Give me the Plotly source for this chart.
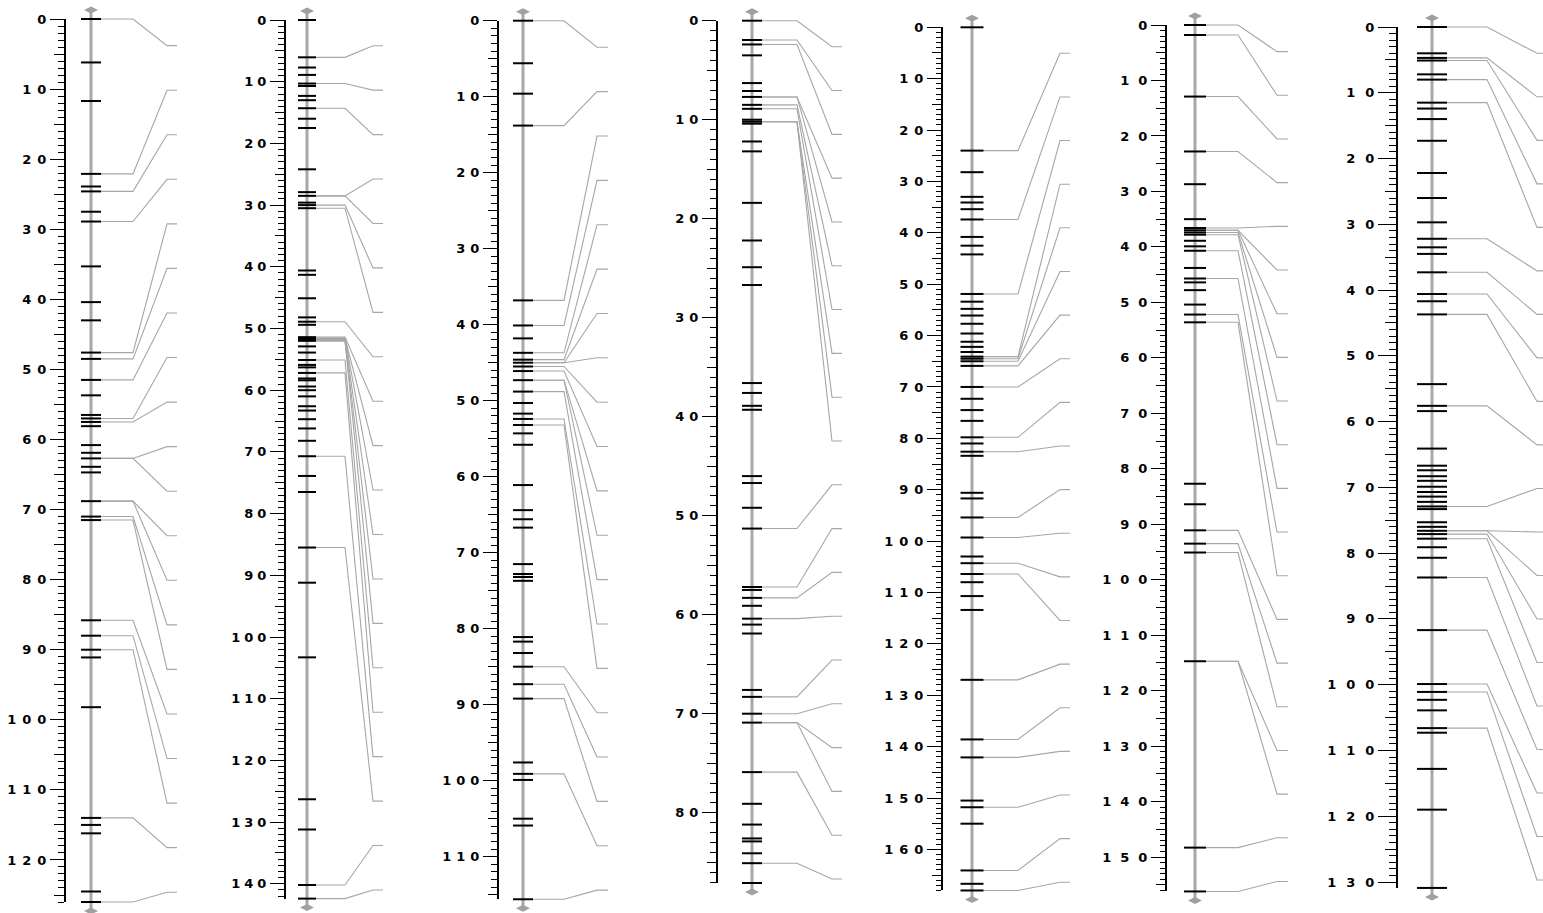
import numpy as np
import plotly.graph_objects as go

# ---------------- data (cM positions) ----------------
c1_markers = [0, 6.2, 11.7, 22.1, 23.9, 24.6, 27.5, 28.9, 35.3, 40.4, 43.0, 47.6, 48.5, 51.5, 53.7,
              56.5, 57.0, 57.5, 58.1, 60.8, 61.9, 62.7, 63.9, 64.7, 68.8, 71.0, 71.5, 85.8, 88.0,
              90.0, 91.1, 98.2, 114.0, 115.0, 116.2, 124.5, 126.0]
c1_linked = [0, 22.1, 24.6, 28.9, 47.6, 48.5, 51.5, 57.0, 57.5, 62.7, 62.7, 68.8, 68.8, 71.0, 71.5,
             85.8, 88.0, 90.0, 114.0, 126.0]

c2_markers = [0, 6.05, 7.7, 8.9, 10.3, 10.7, 12.3, 13.0, 14.3, 16.0, 17.5, 24.2, 27.9, 28.5, 29.6,
              30.0, 30.5, 40.6, 41.3, 45.1, 48.2, 48.9, 49.4, 51.4, 51.6, 51.8, 52.0, 52.9, 53.9,
              55.1, 55.9, 56.3, 57.2, 58.1, 58.4, 59.4, 60.0, 61.0, 62.6, 63.3, 64.7, 66.2, 68.2,
              70.7, 73.9, 76.5, 85.5, 91.2, 103.3, 126.3, 131.2, 140.2, 142.4]
c2_linked = [6.05, 10.3, 14.3, 28.5, 28.5, 30.0, 30.5, 48.9, 51.4, 51.6, 51.6, 51.8, 52.0, 52.0,
             55.1, 57.2, 70.7, 85.5, 140.2, 142.4]

c3_markers = [0, 5.6, 9.6, 13.8, 36.8, 40.1, 41.8, 43.7, 44.6, 45.0, 45.5, 46.1, 47.3, 48.8, 50.3,
              51.7, 52.4, 53.2, 54.3, 55.8, 61.1, 64.4, 65.6, 66.7, 71.5, 72.8, 73.2, 73.7, 81.1,
              81.7, 83.2, 85.0, 87.3, 89.2, 97.6, 99.1, 99.9, 105.0, 105.9, 115.6]
c3_linked = [0, 13.8, 36.8, 40.1, 43.7, 44.6, 45.0, 45.0, 45.5, 46.1, 47.3, 47.3, 48.8, 52.4, 53.2,
             85.0, 87.3, 89.2, 99.1, 115.6]

c4_markers = [0, 1.95, 2.4, 3.5, 6.3, 7.1, 7.7, 8.5, 8.9, 10.0, 10.2, 10.4, 12.2, 13.2, 18.4, 22.2,
              24.9, 26.7, 36.6, 37.6, 38.9, 39.3, 46.0, 46.7, 49.2, 51.3, 57.2, 57.5, 58.3, 59.1,
              60.4, 61.0, 61.9, 67.6, 68.3, 70.0, 70.9, 75.9, 79.1, 81.2, 82.6, 82.9, 84.1, 85.1, 87.1]
c4_linked = [0, 1.95, 2.4, 7.7, 7.7, 8.5, 8.9, 10.2, 10.2, 10.2, 51.3, 57.2, 58.3, 60.4, 68.3,
             70.0, 70.9, 70.9, 75.9, 85.1]

c5_markers = [0, 24.0, 28.2, 33.0, 34.1, 35.4, 37.4, 40.8, 42.5, 44.2, 51.9, 53.4, 54.8, 56.1, 57.7,
              59.6, 61.2, 62.2, 63.2, 64.1, 64.5, 65.0, 65.9, 70.0, 72.3, 74.5, 76.6, 79.8, 81.0,
              82.6, 83.4, 90.6, 91.7, 95.4, 99.3, 103.0, 104.3, 106.4, 108.0, 110.7, 113.4, 127.0,
              138.6, 142.1, 150.5, 151.8, 155.0, 164.1, 166.7, 168.0]
c5_linked = [24.0, 37.4, 51.9, 64.1, 64.5, 65.0, 65.9, 70.0, 79.8, 82.6, 95.4, 99.3, 104.3, 106.4,
             127.0, 138.6, 142.1, 151.8, 164.1, 168.0]

c6_markers = [0, 1.8, 12.9, 22.8, 28.7, 35.0, 36.6, 37.0, 37.4, 37.8, 38.9, 39.9, 40.7, 43.8, 45.7,
              46.4, 47.8, 50.4, 52.2, 53.6, 82.7, 86.4, 91.1, 93.5, 95.1, 114.7, 148.3, 156.2]
c6_linked = [0, 1.8, 12.9, 22.8, 36.6, 37.0, 37.0, 37.4, 37.8, 40.7, 45.7, 52.2, 53.6, 91.1, 93.5,
             95.1, 114.7, 114.7, 148.3, 156.2]

c7_markers = [0, 4.0, 4.7, 5.1, 7.2, 8.0, 11.5, 12.4, 14.0, 17.3, 22.2, 26.0, 29.7, 32.2, 33.5, 34.5,
              37.3, 40.6, 41.7, 43.7, 54.3, 57.6, 58.4, 64.1, 66.7, 67.4, 68.3, 69.0, 69.9, 70.7,
              71.4, 72.2, 72.9, 73.3, 75.3, 76.0, 76.6, 77.1, 77.8, 79.1, 80.7, 83.7, 91.7, 99.9,
              101.1, 102.3, 103.9, 106.6, 107.3, 112.8, 119.0, 130.9]
c7_linked = [0, 4.7, 5.1, 8.0, 11.5, 32.2, 37.3, 40.6, 43.7, 57.6, 72.9, 76.6, 76.6, 77.1, 77.8,
             83.7, 91.7, 99.9, 101.1, 106.6]

markers = [c1_markers, c2_markers, c3_markers, c4_markers, c5_markers, c6_markers, c7_markers]
linked = [c1_linked, c2_linked, c3_linked, c4_linked, c5_linked, c6_linked, c7_linked]

# ---------------- layout (pixel geometry per panel) ----------------
W, H = 1543, 913
# y0: pixel of 0 cM, s: px per cM, ax: ruler x, cx: chromosome x, hw: marker half width,
# b1/b2/xe: connector break points, lab: first/last label position (cM), ls: letter spacing
panels = [
    dict(y0=19.0, s=7.008, ax=65, cx=91, hw=10, b1=133, b2=167, xe=177, lab=(3.8, 124.6), ls=6, tl=(14, 11, 6)),
    dict(y0=20.0, s=6.17, ax=285, cx=307, hw=9, b1=345, b2=373, xe=383, lab=(4.17, 141.0), ls=4, tl=(14, 10, 6)),
    dict(y0=20.7, s=7.6, ax=498, cx=523, hw=10, b1=564, b2=597, xe=608, lab=(3.5, 114.4), ls=5, tl=(14, 10, 6)),
    dict(y0=20.7, s=9.9, ax=717, cx=752, hw=10, b1=797, b2=832, xe=842, lab=(2.63, 86.7), ls=5, tl=(14, 10, 6)),
    dict(y0=27.3, s=5.138, ax=942, cx=972, hw=11.5, b1=1018, b2=1060, xe=1070, lab=(5.06, 166.4), ls=6, tl=(14, 10, 5)),
    dict(y0=25.0, s=5.547, ax=1166, cx=1195, hw=11, b1=1238, b2=1277, xe=1288, lab=(4.8, 154.4), ls=9, tl=(14, 10, 5)),
    dict(y0=27.0, s=6.577, ax=1397, cx=1432, hw=15, b1=1487, b2=1537, xe=1543, lab=(4.0, 129.7), ls=10, tl=(18, 12, 7)),
]

fig = go.Figure()
layout = dict(
    width=W, height=H, margin=dict(l=0, r=0, t=0, b=0, pad=0, autoexpand=False),
    paper_bgcolor="white", plot_bgcolor="rgba(0,0,0,0)", showlegend=False,
    xaxis=dict(range=[0, W], domain=[0, 1], visible=False, fixedrange=True),
)

FONT = dict(family="DejaVu Sans", size=13, color="black", weight="bold")

for i, (mk, lk, p) in enumerate(zip(markers, linked, panels)):
    k = i + 1
    yd = "y" if k == 1 else f"y{k}"
    yr = f"y{7 + k}"
    ym = f"y{14 + k}"
    y0, s = p["y0"], p["s"]
    cmax = max(mk)

    # data axis (full height)
    ad = dict(domain=[0, 1], range=[(H - y0) / s, -y0 / s], visible=False, fixedrange=True, anchor="x")
    if k > 1:
        ad["overlaying"] = "y"
    layout["yaxis" if k == 1 else f"yaxis{k}"] = ad

    # ruler axis
    major = list(range(0, int(cmax) + 1, 10))
    def fmt(v, ls=p["ls"]):
        t = str(v)
        if len(t) == 1:
            return t
        return f'<span style="letter-spacing:{ls}px">{t[:-1]}</span>{t[-1]}'
    dom = [1 - (y0 + s * cmax) / H, 1 - y0 / H]
    layout[f"yaxis{7 + k}"] = dict(
        domain=dom, range=[cmax, 0], anchor="free", position=p["ax"] / W, side="left",
        showline=True, linecolor="black", linewidth=2, showgrid=False, zeroline=False,
        ticks="outside", ticklen=p["tl"][0], tickwidth=1, tickcolor="black",
        tickmode="array", tickvals=major, ticktext=[fmt(v) for v in major],
        tickfont=FONT, ticklabelstandoff=1, fixedrange=True, automargin=False,
        minor=dict(ticks="outside", tickmode="array",
                   tickvals=[v for v in range(0, int(cmax) + 1) if v % 5 != 0],
                   ticklen=p["tl"][2], tickwidth=1, tickcolor="black", showgrid=False),
    )
    # mid (5 cM) ticks
    layout[f"yaxis{14 + k}"] = dict(
        overlaying=yr, range=[cmax, 0], anchor="free", position=p["ax"] / W, side="left",
        showline=False, showgrid=False, zeroline=False, ticks="outside",
        ticklen=p["tl"][1], tickwidth=1, tickcolor="black", tickmode="array",
        tickvals=list(range(5, int(cmax) + 1, 10)), showticklabels=False, fixedrange=True,
        automargin=False,
    )
    for ya in (yr, ym):
        fig.add_trace(go.Scatter(x=[None], y=[None], xaxis="x", yaxis=ya, mode="lines",
                                 hoverinfo="skip", showlegend=False))

    # chromosome bar with end diamonds
    off = 9 / s
    fig.add_trace(go.Scatter(
        x=[p["cx"], p["cx"]], y=[-off, cmax + off], xaxis="x", yaxis=yd,
        mode="lines+markers", line=dict(color="#a8a8a8", width=3),
        marker=dict(symbol="diamond-wide", size=10, color="#a0a0a0"),
        hoverinfo="skip", showlegend=False))

    # connectors
    labs = np.linspace(p["lab"][0], p["lab"][1], len(lk))
    cxs, cys = [], []
    for m, l in zip(lk, labs):
        cxs += [p["cx"] + p["hw"], p["b1"], p["b2"], p["xe"], None]
        cys += [m, m, l, l, None]
    fig.add_trace(go.Scatter(x=cxs, y=cys, xaxis="x", yaxis=yd, mode="lines",
                             line=dict(color="#a6a6a6", width=1.1), hoverinfo="skip", showlegend=False))

    # marker ticks
    mxs, mys = [], []
    for m in mk:
        mxs += [p["cx"] - p["hw"], p["cx"] + p["hw"], None]
        mys += [m, m, None]
    fig.add_trace(go.Scatter(x=mxs, y=mys, xaxis="x", yaxis=yd, mode="lines",
                             line=dict(color="black", width=2), hoverinfo="skip", showlegend=False))

fig.update_layout(**layout)
fig.write_html("out.html", include_plotlyjs=True, config={"displayModeBar": False},
               post_script="document.body.style.margin='0';document.body.style.overflow='hidden';")
